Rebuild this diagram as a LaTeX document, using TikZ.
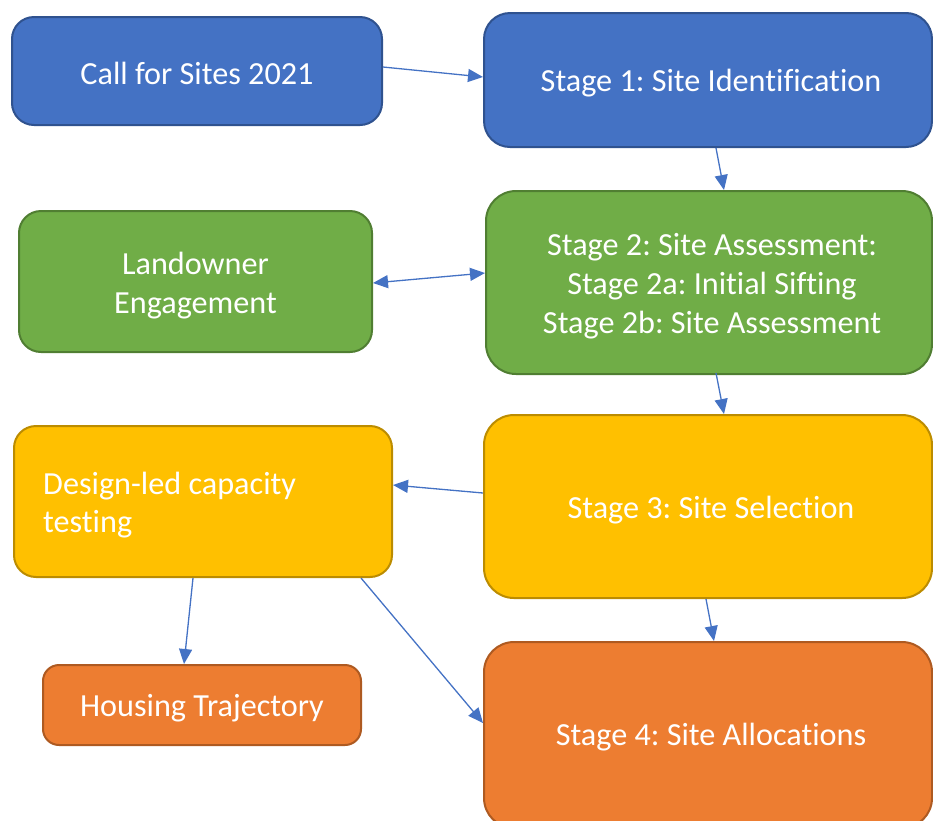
\documentclass[tikz,border=0pt]{standalone}
\usepackage{fontspec}
\setmainfont{Carlito}[Ligatures=NoCommon]
\usetikzlibrary{arrows.meta,calc}
\definecolor{bluefill}{HTML}{4472C4}
\definecolor{blueline}{HTML}{2F528F}
\definecolor{greenfill}{HTML}{70AD47}
\definecolor{greenline}{HTML}{507E32}
\definecolor{yellowfill}{HTML}{FFC000}
\definecolor{yellowline}{HTML}{BC8C00}
\definecolor{orangefill}{HTML}{ED7D31}
\definecolor{orangeline}{HTML}{AE5A21}
\definecolor{linkblue}{HTML}{4472C4}
\frenchspacing
\tikzset{
  box/.style={draw, line width=2pt, rounded corners=22pt, inner sep=0pt},
  bluebox/.style={box, fill=bluefill, draw=blueline},
  greenbox/.style={box, fill=greenfill, draw=greenline},
  yellowbox/.style={box, fill=yellowfill, draw=yellowline},
  orangebox/.style={box, fill=orangefill, draw=orangeline},
  boxtext/.style={text=white, align=center, inner sep=0pt,
    font=\fontsize{32.2}{39}\selectfont},
  link/.style={draw=linkblue, line width=1.3pt,
    -{Triangle[length=15pt,width=13pt]}},
  linkboth/.style={draw=linkblue, line width=1.3pt,
    {Triangle[length=15pt,width=13pt]}-{Triangle[length=15pt,width=13pt]}}
}
\begin{document}
\begin{tikzpicture}[x=1pt,y=-1pt]
\useasboundingbox (0,0) rectangle (933,820);
\clip (0,0) rectangle (933,820);

% left column
\node[bluebox, minimum width=370pt, minimum height=108pt] (call) at (197,71) {};
\node[greenbox, minimum width=353pt, minimum height=141pt] (land) at (195.5,281.5) {};
\node[yellowbox, minimum width=378pt, minimum height=151pt] (design) at (203,501.5) {};
\node[orangebox, minimum width=318pt, minimum height=80pt, rounded corners=16pt] (housing) at (202,705) {};

% right column (stages)
\node[bluebox, minimum width=448pt, minimum height=134pt, rounded corners=26pt] (s1) at (708,80) {};
\node[greenbox, minimum width=446pt, minimum height=183pt, rounded corners=30pt] (s2) at (709,282.5) {};
\node[yellowbox, minimum width=448pt, minimum height=183pt, rounded corners=30pt] (s3) at (708,506.5) {};
\node[orangebox, minimum width=448pt, minimum height=186pt, rounded corners=30pt] (s4) at (708,735) {};

% box texts
\node[boxtext] (calltxt) at ([yshift=-2.5pt]call.center) {Call for Sites 2021};
\node[boxtext] (landtxt) at ([yshift=-4pt]land.center) {Landowner\\Engagement};
\node[boxtext, anchor=west, align=left, font=\fontsize{32.2}{38}\selectfont] (designtxt) at (43,505) {Design-led capacity\\testing};
\node[boxtext] (housingtxt) at ([yshift=-3.5pt]housing.center) {Housing Trajectory};
\node[boxtext] (s1txt) at ([xshift=3pt,yshift=-3.5pt]s1.center) {Stage 1: Site Identification};
\node[boxtext] (s2txt) at ([xshift=3pt,yshift=-3.5pt]s2.center) {Stage 2: Site Assessment:\\Stage 2a: Initial Sifting\\Stage 2b: Site Assessment};
\node[boxtext] (s3txt) at ([xshift=3pt,yshift=-3.5pt]s3.center) {Stage 3: Site Selection};
\node[boxtext] (s4txt) at ([xshift=3pt,yshift=-2.5pt]s4.center) {Stage 4: Site Allocations};

% connectors
\draw[link] ([yshift=4pt]call.east) -- ([yshift=3pt]s1.west);
\draw[link] ([xshift=8pt]s1.south) -- ([xshift=15pt]s2.north);
\draw[linkboth] ([yshift=-1.5pt]land.east) -- ([yshift=9.5pt]s2.west);
\draw[link] ([xshift=7pt,yshift=2pt]s2.south) -- ([xshift=16pt]s3.north);
\draw[link] ([yshift=13.5pt]s3.west) -- ([yshift=16.5pt]design.east);
\draw[link] ([xshift=-2pt]s3.south) -- ([xshift=6pt]s4.north);
\draw[link] ([xshift=-10pt]design.south) -- ([xshift=-18pt]housing.north);
\draw[link] ([xshift=158pt]design.south) -- ([yshift=12pt]s4.west);
\end{tikzpicture}
\end{document}
